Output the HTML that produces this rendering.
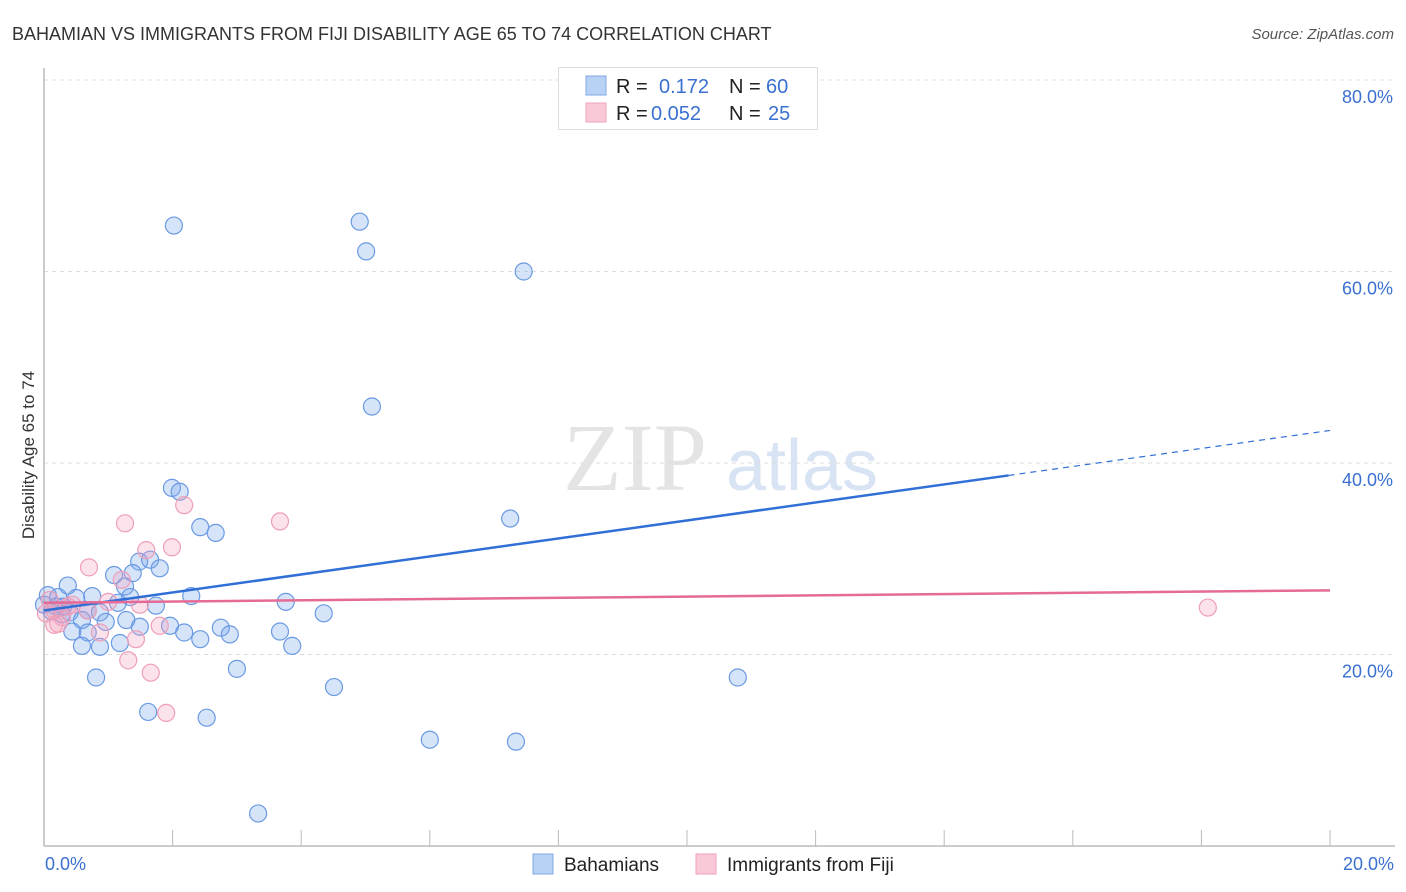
<!DOCTYPE html>
<html><head><meta charset="utf-8"><style>
body{margin:0;background:#fff;font-family:"Liberation Sans",sans-serif;}
svg{display:block}
</style></head><body>
<svg id="chart" width="1406" height="892" xmlns="http://www.w3.org/2000/svg">
<text x="12" y="40" font-size="18" fill="#333">BAHAMIAN VS IMMIGRANTS FROM FIJI DISABILITY AGE 65 TO 74 CORRELATION CHART</text>
<text x="1394" y="39" font-size="15" fill="#555" font-style="italic" text-anchor="end">Source: ZipAtlas.com</text>
<text x="34" y="455" font-size="17" fill="#333" text-anchor="middle" transform="rotate(-90 34 455)">Disability Age 65 to 74</text>
<g><text x="635" y="490" font-size="96" fill="#e4e4e4" font-family="Liberation Serif,serif" text-anchor="middle">ZIP</text><text x="802" y="490" font-size="72" fill="#d8e4f4" text-anchor="middle">atlas</text></g>
<g id="grid"></g><g id="axes"></g><g id="pts"></g><g id="lines"></g>
<g>
<rect x="558.5" y="67.5" width="259" height="62" fill="#fff" stroke="#ddd"/>
<rect x="586" y="76" width="20" height="19" fill="#b8d2f5" stroke="#7fa8e6"/>
<rect x="586" y="103" width="20" height="19" fill="#f9c9d7" stroke="#eea3ba"/>
<text x="616" y="93" font-size="20" fill="#222">R = </text><text x="659" y="93" font-size="20" fill="#3a70d0">0.172</text>
<text x="729" y="93" font-size="20" fill="#222">N = </text><text x="766" y="93" font-size="20" fill="#3a70d0">60</text>
<text x="616" y="120" font-size="20" fill="#222">R = </text><text x="651" y="120" font-size="20" fill="#3a70d0">0.052</text>
<text x="729" y="120" font-size="20" fill="#222">N = </text><text x="768" y="120" font-size="20" fill="#3a70d0">25</text>
</g>
<g>
<rect x="533" y="854" width="20" height="20" fill="#b8d2f5" stroke="#7fa8e6"/>
<text x="564" y="871" font-size="19" fill="#222">Bahamians</text>
<rect x="696" y="854" width="20" height="20" fill="#f9c9d7" stroke="#eea3ba"/>
<text x="727" y="871" font-size="19" fill="#222">Immigrants from Fiji</text>
</g>
</svg>
<script>
const bahX=[2.02,4.91,5.01,7.46,5.10,1.99,2.11,7.25,2.43,2.67,1.48,1.65,1.80,1.38,1.09,1.26,0.37,0.06,0.22,0.75,0.50,1.34,2.29,3.76,1.15,1.74,4.35,0.30,0.12,0.68,0.40,0.87,0.59,0.96,1.28,1.49,1.96,2.75,0.44,0.68,2.18,2.89,3.67,2.43,1.18,0.59,0.87,3.86,3.00,0.81,10.79,4.51,1.62,2.53,6.00,7.34,3.33,0.19,0.00,0.28];
const bahY=[64.8,65.2,62.1,60.0,45.9,37.4,37.0,34.2,33.3,32.7,29.7,29.9,29.0,28.5,28.3,27.1,27.2,26.2,26.0,26.1,25.9,26.0,26.1,25.5,25.4,25.1,24.3,25.0,24.5,24.6,24.4,24.4,23.6,23.4,23.6,22.9,23.0,22.8,22.4,22.3,22.3,22.1,22.4,21.6,21.2,20.9,20.8,20.9,18.5,17.6,17.6,16.6,14.0,13.4,11.1,10.9,3.4,25.0,25.2,24.2];
const fijiX=[2.18,1.26,3.67,1.99,1.59,0.70,1.21,1.00,1.49,0.68,0.37,0.16,0.28,0.03,0.22,0.87,1.80,1.43,1.31,1.66,1.90,18.10,0.44,0.09,0.16];
const fijiY=[35.6,33.7,33.9,31.2,30.9,29.1,27.8,25.5,25.2,24.6,25.0,24.6,23.9,24.3,23.2,22.3,23.0,21.6,19.4,18.1,13.9,24.9,25.2,25.7,23.1];
const yTicks=[20,40,60,80];
const yTickLabels=["20.0%","40.0%","60.0%","80.0%"];
const xEndLabels=["0.0%","20.0%"];
const bahTrend=[24.6,43.4];
const fijiTrend=[25.4,26.7];
const NS="http://www.w3.org/2000/svg";
const X=v=>44+v/20*1286, Y=v=>846-v/20*191.5;
function mk(t,a,p){const e=document.createElementNS(NS,t);for(const k in a)e.setAttribute(k,a[k]);document.getElementById(p).appendChild(e);return e;}
yTicks.forEach((t,i)=>{
 const g=mk('line',{x1:44,x2:1395,y1:Y(t),y2:Y(t),stroke:'#ddd','stroke-dasharray':'4,4'},'grid');
 
 
 const l=mk('text',{x:1393,y:Y(t)+23,'font-size':18,fill:'#3a70d0','text-anchor':'end'},'grid');
 l.textContent=yTickLabels[i];
 
 
});
const ax=mk('line',{x1:44,x2:1395,y1:846,y2:846,stroke:'#bbb','stroke-width':1.5},'axes');


const ay=mk('line',{x1:44,x2:44,y1:68,y2:846,stroke:'#bbb','stroke-width':1.5},'axes');


for(let i=1;i<=10;i++){const t=mk('line',{x1:X(i*2),x2:X(i*2),y1:830,y2:846,stroke:'#bbb'},'axes');
 
 }
[[0,'start',45],[20,'end',1394]].forEach((d,i)=>{const t=mk('text',{x:d[2],y:870,'font-size':18,fill:'#3a70d0','text-anchor':d[1]},'axes');t.textContent=xEndLabels[i];
 
 });
bahX.forEach((v,i)=>{const c=mk('circle',{cx:X(v),cy:Y(bahY[i]),r:8.5,fill:'rgba(120,165,235,0.3)',stroke:'#6a9ae2','stroke-width':1.2},'pts');
 
 });
fijiX.forEach((v,i)=>{const c=mk('circle',{cx:X(v),cy:Y(fijiY[i]),r:8.5,fill:'rgba(245,160,190,0.3)',stroke:'#ee9fb8','stroke-width':1.2},'pts');
 
 });
const bAt=x=>bahTrend[0]+(bahTrend[1]-bahTrend[0])*x/20;
const l1=mk('line',{x1:X(0),y1:Y(bAt(0)),x2:X(15),y2:Y(bAt(15)),stroke:'#2f6fd6','stroke-width':2.5},'lines');


const l2=mk('line',{x1:X(15),y1:Y(bAt(15)),x2:X(20),y2:Y(bAt(20)),stroke:'#2f6fd6','stroke-width':1.2,'stroke-dasharray':'6,5'},'lines');


const l3=mk('line',{x1:X(0),y1:Y(fijiTrend[0]),x2:X(20),y2:Y(fijiTrend[1]),stroke:'#e56a94','stroke-width':2.5},'lines');


</script>
</body></html>
